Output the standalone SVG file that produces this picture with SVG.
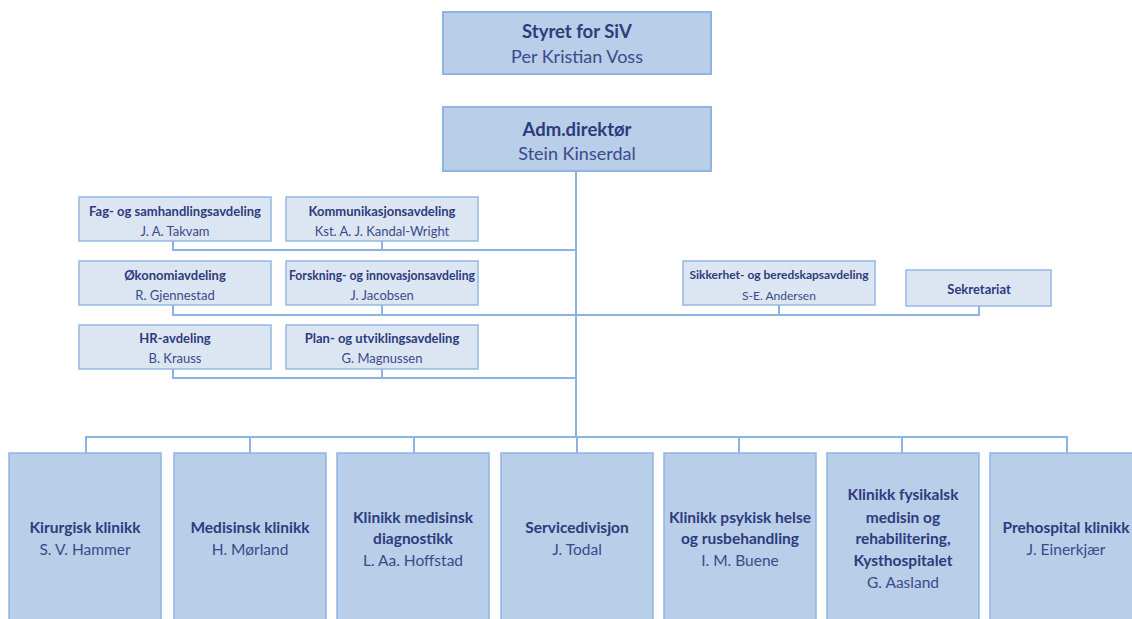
<svg xmlns="http://www.w3.org/2000/svg" width="1132" height="619" viewBox="0 0 1132 619">
<style>
.big{fill:#b8cee9;stroke:#8fb4e2;stroke-width:2}
.staff{fill:#dce6f3;stroke:#95b8e2;stroke-width:1.5}
.bot{fill:#b8cee9;stroke:#8fb4e2;stroke-width:1.5}
text{font-family:Lato,"Open Sans","Liberation Sans",sans-serif;text-anchor:middle;dominant-baseline:central}
.t{font-weight:bold;fill:#2e3b7c}
.n{fill:#3b4a8a}
.tl{font-size:18.5px}.nl{font-size:18px}
.ts{font-size:13px}.ns{font-size:13px}
.tb{font-size:15.5px}.nb{font-size:15.5px}
#conn path{fill:none;stroke:#8db3e2;stroke-width:2}
</style>
<rect width="1132" height="619" fill="#fff"/>
<g id="conn">
<path d="M576 171V437"/>
<path d="M173 241V250H576M382 241V250"/>
<path d="M173 305V315H979V306M382 305V315M779 305V315"/>
<path d="M173 369V378H576M382 369V378"/>
<path d="M86 453V437H1067V453M250 437V453M414 437V453M577 437V453M739 437V453M902 437V453"/>
</g>
<g id="styret"><rect class="big" x="443" y="12" width="268" height="62"/><text class="t tl" x="577" y="31">Styret for SiV</text><text class="n nl" x="577" y="56">Per Kristian Voss</text></g>
<g id="adm"><rect class="big" x="443" y="107" width="268" height="64"/><text class="t tl" x="577" y="129">Adm.direktør</text><text class="n nl" x="577" y="153">Stein Kinserdal</text></g>
<g id="fag"><rect class="staff" x="79" y="197" width="192" height="44"/><text class="t ts" x="175" y="211">Fag- og samhandlingsavdeling</text><text class="n ns" x="175" y="231">J. A. Takvam</text></g>
<g id="komm"><rect class="staff" x="286" y="197" width="192" height="44"/><text class="t ts" x="382" y="211">Kommunikasjonsavdeling</text><text class="n ns" x="382" y="231">Kst. A. J. Kandal-Wright</text></g>
<g id="okonomi"><rect class="staff" x="79" y="261" width="192" height="44"/><text class="t ts" x="175" y="275">Økonomiavdeling</text><text class="n ns" x="175" y="295">R. Gjennestad</text></g>
<g id="forskning"><rect class="staff" x="286" y="261" width="192" height="44"/><text class="t ts" x="382" y="275" textLength="186" lengthAdjust="spacingAndGlyphs">Forskning- og innovasjonsavdeling</text><text class="n ns" x="382" y="295">J. Jacobsen</text></g>
<g id="hr"><rect class="staff" x="79" y="325" width="192" height="44"/><text class="t ts" x="175" y="338">HR-avdeling</text><text class="n ns" x="175" y="358">B. Krauss</text></g>
<g id="plan"><rect class="staff" x="286" y="325" width="192" height="44"/><text class="t ts" x="382" y="338">Plan- og utviklingsavdeling</text><text class="n ns" x="382" y="358">G. Magnussen</text></g>
<g id="sikkerhet"><rect class="staff" x="683" y="261" width="192" height="44"/><text class="t" style="font-size:12px" x="779" y="274">Sikkerhet- og beredskapsavdeling</text><text class="n" style="font-size:12px" x="779" y="295">S-E. Andersen</text></g>
<g id="sekretariat"><rect class="staff" x="906" y="270" width="145" height="36"/><text class="t ts" x="979" y="289">Sekretariat</text></g>
<g id="kirurgisk"><rect class="bot" x="9" y="453" width="152" height="170"/><text class="t tb" x="85" y="527">Kirurgisk klinikk</text><text class="n nb" x="85" y="549">S. V. Hammer</text></g>
<g id="medisinsk"><rect class="bot" x="174" y="453" width="152" height="170"/><text class="t tb" x="250" y="527">Medisinsk klinikk</text><text class="n nb" x="250" y="549">H. Mørland</text></g>
<g id="diagnostikk"><rect class="bot" x="337" y="453" width="152" height="170"/><text class="t tb" x="413" y="517">Klinikk medisinsk</text><text class="t tb" x="413" y="538">diagnostikk</text><text class="n nb" x="413" y="560">L. Aa. Hoffstad</text></g>
<g id="service"><rect class="bot" x="501" y="453" width="152" height="170"/><text class="t tb" x="577" y="527">Servicedivisjon</text><text class="n nb" x="577" y="549">J. Todal</text></g>
<g id="psykisk"><rect class="bot" x="664" y="453" width="152" height="170"/><text class="t tb" x="740" y="517">Klinikk psykisk helse</text><text class="t tb" x="740" y="538">og rusbehandling</text><text class="n nb" x="740" y="560">I. M. Buene</text></g>
<g id="fysikalsk"><rect class="bot" x="827" y="453" width="152" height="170"/><text class="t tb" x="903" y="494">Klinikk fysikalsk</text><text class="t tb" x="903" y="517">medisin og</text><text class="t tb" x="903" y="538">rehabilitering,</text><text class="t tb" x="903" y="560">Kysthospitalet</text><text class="n nb" x="903" y="582">G. Aasland</text></g>
<g id="prehospital"><rect class="bot" x="990" y="453" width="152" height="170"/><text class="t tb" x="1066" y="527">Prehospital klinikk</text><text class="n nb" x="1066" y="549">J. Einerkjær</text></g>
</svg>
